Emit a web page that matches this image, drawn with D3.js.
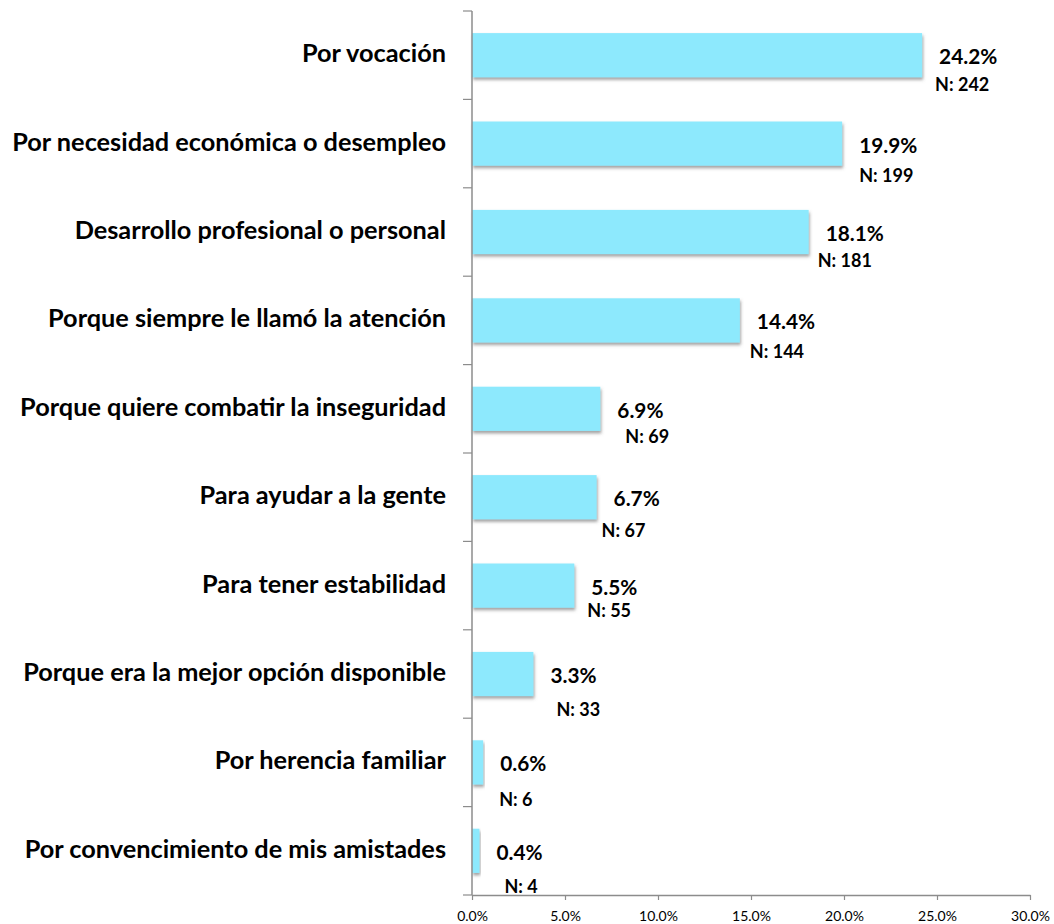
<!DOCTYPE html>
<html>
<head>
<meta charset="utf-8">
<script src="https://cdn.jsdelivr.net/npm/d3@7/dist/d3.min.js"></script>
<style>
  html, body { margin: 0; padding: 0; background: #fff; }
  svg { display: block; }
  .cat { font-family: Lato, "Open Sans", sans-serif; font-weight: 700; fill: #000; }
  .pct, .nlab { font-family: Lato, "Open Sans", sans-serif; font-weight: 700; fill: #000; }
  .xaxis text { font-family: Lato, "Open Sans", sans-serif; font-size: 14px; fill: #000; }
</style>
</head>
<body>
<svg id="chart" width="1054" height="924"></svg>
<script>
// Motivos para ingresar: porcentaje de respuestas y número de casos
const categories = [
  "Por vocación",
  "Por necesidad económica o desempleo",
  "Desarrollo profesional o personal",
  "Porque siempre le llamó la atención",
  "Porque quiere combatir la inseguridad",
  "Para ayudar a la gente",
  "Para tener estabilidad",
  "Porque era la mejor opción disponible",
  "Por herencia familiar",
  "Por convencimiento de mis amistades"
];
const percentages = [24.2, 19.9, 18.1, 14.4, 6.9, 6.7, 5.5, 3.3, 0.6, 0.4];
const counts = [242, 199, 181, 144, 69, 67, 55, 33, 6, 4];
const xTicks = [0, 5, 10, 15, 20, 25, 30];

// Hand-placed offsets of the "N:" labels, relative to the bar end and band centre
const nLabelShift = [[13, 36], [17, 38], [9, 35], [10, 38], [25, 34], [5, 40], [13, 31], [23, 42], [16, 44], [25, 42]];

const svg = d3.select("#chart");
const axisColor = "#8c8c8c";

const x = d3.scaleLinear().domain([0, 30]).range([472, 1030]);
const y = d3.scaleBand().domain(categories).range([11, 895]).paddingInner(0).paddingOuter(0);

// soft shadow under the bars
const defs = svg.append("defs");
const f = defs.append("filter").attr("id", "shadow")
  .attr("x", "-5%").attr("y", "-20%").attr("width", "115%").attr("height", "160%");
f.append("feDropShadow").attr("dx", 1).attr("dy", 2.5).attr("stdDeviation", 1.4)
  .attr("flood-color", "#555").attr("flood-opacity", 0.55);

const barH = y.bandwidth() * 0.5;

svg.append("g").selectAll("rect")
  .data(categories)
  .join("rect")
  .attr("x", x(0))
  .attr("y", d => y(d) + y.bandwidth() / 2 - barH / 2)
  .attr("width", (d, i) => x(percentages[i]) - x(0))
  .attr("height", barH)
  .attr("fill", "#8de9fd")
  .attr("filter", "url(#shadow)");

// value axis
const xAxis = svg.append("g")
  .attr("class", "xaxis")
  .attr("transform", `translate(0,${y.range()[1]})`)
  .call(d3.axisBottom(x).tickValues(xTicks).tickFormat(d => d.toFixed(1) + "%").tickSize(5).tickSizeOuter(0));
xAxis.select(".domain").attr("stroke", axisColor).attr("stroke-width", 1.5);
xAxis.selectAll(".tick line").attr("stroke", axisColor).attr("stroke-width", 1.2);
xAxis.selectAll(".tick text").attr("dy", "1.25em");

// category axis: vertical line with ticks at the band edges
const cat = svg.append("g");
cat.append("line")
  .attr("x1", x(0)).attr("x2", x(0))
  .attr("y1", y.range()[0]).attr("y2", y.range()[1])
  .attr("stroke", axisColor).attr("stroke-width", 1.5);
const edges = categories.map(d => y(d)).concat([y.range()[1]]);
cat.selectAll("line.edge")
  .data(edges)
  .join("line")
  .attr("class", "edge")
  .attr("x1", x(0) - 9).attr("x2", x(0))
  .attr("y1", d => d).attr("y2", d => d)
  .attr("stroke", axisColor).attr("stroke-width", 1.2);

cat.selectAll("text")
  .data(categories)
  .join("text")
  .attr("class", "cat")
  .attr("x", 446)
  .attr("y", d => y(d) + y.bandwidth() / 2 + 7)
  .attr("text-anchor", "end")
  .attr("font-size", 25.3)
  .text(d => d);

// value labels
const labels = svg.append("g");
labels.selectAll("text.pct")
  .data(categories)
  .join("text")
  .attr("class", "pct")
  .attr("x", (d, i) => x(percentages[i]) + 17)
  .attr("y", d => y(d) + y.bandwidth() / 2 + 9)
  .attr("font-size", 20.8)
  .text((d, i) => percentages[i].toFixed(1) + "%");

labels.selectAll("text.nlab")
  .data(categories)
  .join("text")
  .attr("class", "nlab")
  .attr("x", (d, i) => x(percentages[i]) + nLabelShift[i][0])
  .attr("y", (d, i) => y(d) + y.bandwidth() / 2 + nLabelShift[i][1])
  .attr("font-size", 18)
  .text((d, i) => "N: " + counts[i]);
</script>
</body>
</html>
